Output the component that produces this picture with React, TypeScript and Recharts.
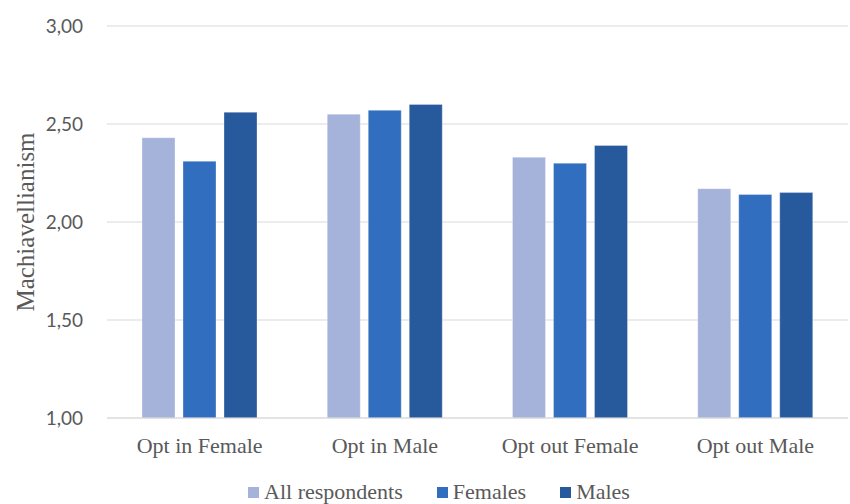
import React from 'react';
import { BarChart, Bar, XAxis, YAxis, CartesianGrid } from 'recharts';

const groups = ['Opt in Female', 'Opt in Male', 'Opt out Female', 'Opt out Male'];
const allRespondents = [2.43, 2.55, 2.33, 2.17];
const females = [2.31, 2.57, 2.30, 2.14];
const males = [2.56, 2.60, 2.39, 2.15];
const yTicks = [1, 1.5, 2, 2.5, 3];

const series = [
    { key: 'all', name: 'All respondents', color: '#A5B2DA' },
    { key: 'females', name: 'Females', color: '#326EC0' },
    { key: 'males', name: 'Males', color: '#27599D' },
];

const data = groups.map((g, i) => ({
    name: g,
    all: allRespondents[i],
    females: females[i],
    males: males[i],
}));

const serif = '"Liberation Serif", "Times New Roman", serif';
const sans = 'Lato, "Open Sans", sans-serif';
const grey = '#595959';

// legend sits under the chart, outside the svg
function LegendRow() {
    return (
        <div style={{ position: 'absolute', left: 14, top: 479, width: 850, display: 'flex', justifyContent: 'center',
            fontFamily: serif, fontSize: 22, lineHeight: '26px', color: grey }}>
            {series.map((s) => (
                <div key={s.key} style={{ display: 'flex', alignItems: 'center', margin: '0 17px' }}>
                    <span style={{ width: 11, height: 11, background: s.color, display: 'inline-block', marginRight: 5 }} />
                    <span>{s.name}</span>
                </div>
            ))}
        </div>
    );
}

function YLabel(props: any) {
    const vb = props.viewBox || {};
    const cy = vb.y + vb.height / 2;
    const cx = 25;
    return (
        <text x={cx} y={cy} transform={`rotate(-90, ${cx}, ${cy})`} textAnchor="middle" dominantBaseline="central"
            fill={grey} fontFamily={serif} fontSize={25}>
            Machiavellianism
        </text>
    );
}

export default function App() {
    return (
        <div style={{ position: 'absolute', left: 0, top: 0, width: 850, height: 504, background: '#fff' }}>
            <BarChart width={850} height={504} data={data} margin={{ top: 26, right: 2, bottom: 56, left: 0 }}
                barSize={33} barGap={8}>
                <CartesianGrid vertical={false} stroke="#D9D9D9" strokeWidth={1.2} />
                <XAxis dataKey="name" height={30} tickLine={false} axisLine={{ stroke: '#D9D9D9', strokeWidth: 1.2 }}
                    tickSize={0} tickMargin={19} interval={0}
                    tick={{ fill: grey, fontFamily: serif, fontSize: 22 }} />
                <YAxis width={107} domain={[1, 3]} ticks={yTicks} tickLine={false} axisLine={false}
                    tickSize={0} tickMargin={24}
                    tickFormatter={(v: number) => v.toFixed(2).replace('.', ',')}
                    tick={{ fill: grey, fontFamily: sans, fontSize: 19 }}
                    label={<YLabel />} />
                {series.map((s) => (
                    <Bar key={s.key} dataKey={s.key} name={s.name} fill={s.color}
                        stroke="#ffffff" strokeOpacity={0.3} strokeWidth={1} isAnimationActive={false} />
                ))}
            </BarChart>
            <LegendRow />
        </div>
    );
}
